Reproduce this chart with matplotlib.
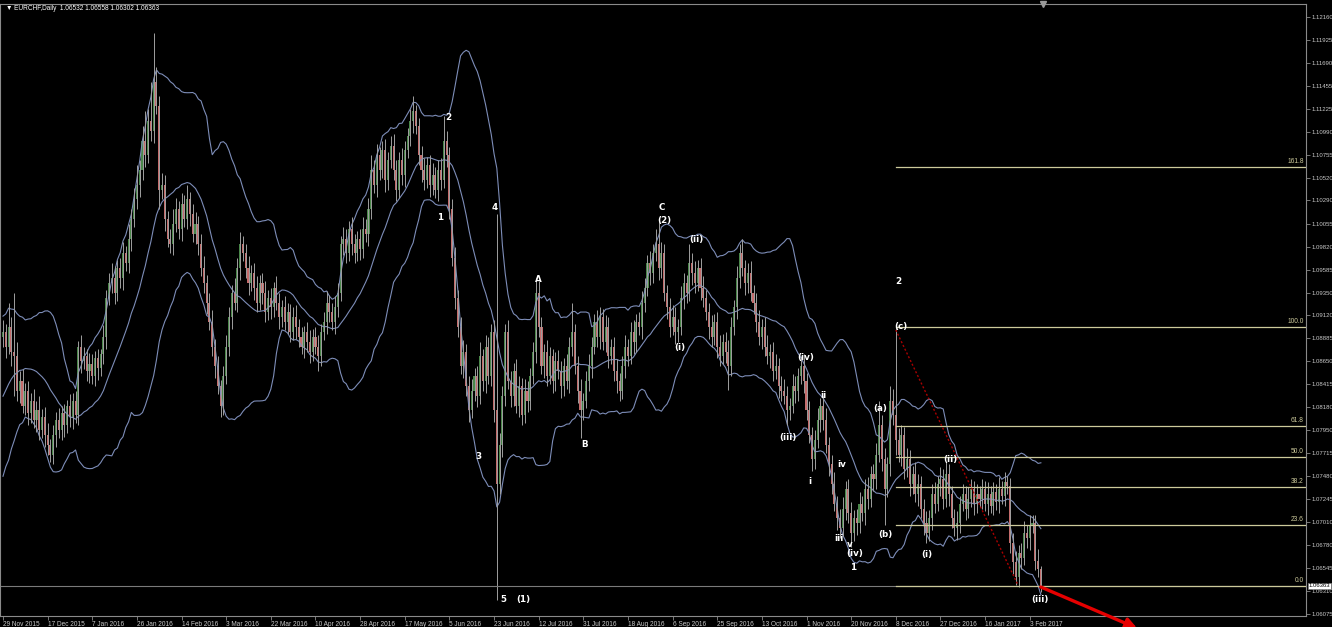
import matplotlib
matplotlib.use('Agg')
import matplotlib.pyplot as plt
import numpy as np
import pandas as pd

plt.rcParams['font.family'] = ['Liberation Sans', 'DejaVu Sans']

# daily closes, in pips above 1.0000 (e.g. 895 -> 1.0895)
closes_before = [760, 775, 770, 790, 785, 800, 810, 805, 820, 830,
                 825, 845, 850, 860, 855, 870, 880, 875, 890]

closes = [
    895, 880, 900, 875, 870, 835, 845, 820, 835, 812,
    825, 805, 815, 795, 808, 790, 780, 770, 790, 805,
    795, 812, 800, 820, 808, 825, 810, 880, 865, 870,
    855, 862, 850, 868, 858, 872, 890, 930, 945, 950,
    935, 960, 950, 975, 965, 990, 1010, 1030, 1045, 1060,
    1090, 1075, 1110, 1100, 1150, 1125, 1040, 1045, 1010, 990,
    985, 1005, 1020, 1000, 1025, 1010, 1030, 1015, 995, 1005,
    985, 960, 945, 925, 905, 880, 860, 840, 820, 850,
    880, 910, 935, 925, 960, 985, 975, 960, 945, 955,
    940, 925, 945, 935, 915, 930, 920, 940, 925, 910,
    920, 905, 915, 895, 910, 900, 890, 880, 895, 885,
    875, 890, 880, 870, 895, 905, 925, 915, 905, 920,
    935, 985, 990, 975, 1000, 985, 975, 990, 980, 1000,
    995, 1020, 1060, 1045, 1075, 1060, 1080, 1050, 1070, 1085,
    1060, 1040, 1070, 1055, 1080, 1095, 1110, 1120, 1105, 1075,
    1060, 1050, 1065, 1045, 1055, 1040, 1060, 1050, 1090, 1075,
    1020, 970, 930, 900, 860, 875, 840, 815, 835, 850,
    830, 870, 845, 880, 850, 895, 815, 740, 780, 830,
    895, 845, 830, 855, 820, 840, 810, 835, 825, 850,
    875, 935, 900, 860, 875, 850, 870, 845, 865, 855,
    840, 860, 845, 880, 895, 860, 835, 815, 825, 845,
    860, 880, 905, 890, 910, 885, 900, 870, 880, 855,
    845, 835, 860, 880, 870, 895, 885, 905, 900, 925,
    940, 965, 955, 975, 985, 960, 975, 935, 920, 900,
    910, 895, 900, 930, 945, 935, 965, 955, 945, 960,
    940, 930, 915, 900, 890, 905, 880, 870, 885, 875,
    860, 900, 920, 950, 975, 960, 945, 955, 935, 925,
    905, 890, 900, 880, 870, 875, 855, 860, 840, 835,
    830, 815, 820, 840, 835, 850, 860, 845, 815, 790,
    765, 785, 805, 820, 805, 780, 760, 740, 720, 705,
    695, 715, 735, 710, 690, 705, 700, 720, 710, 735,
    725, 750, 745, 770, 800, 765, 735, 760, 825, 810,
    785, 770, 790, 755, 765, 740, 750, 730, 740, 715,
    700, 690, 705, 730, 720, 740, 745, 725, 750, 730,
    705, 695, 700, 720, 730, 715, 725, 735, 720, 730,
    725, 735, 720, 730, 718, 732, 722, 735, 728, 742,
    738, 680, 660, 645, 670, 665, 690, 685, 698, 700,
    662, 653, 636,
]

# wick above / below the body, in pips
wick_up = [
    12, 8, 25, 10, 60, 15, 10, 12, 8, 10,
    8, 12, 10, 15, 8, 10, 12, 6, 10, 8,
    12, 8, 10, 6, 12, 8, 10, 6, 12, 10,
    8, 12, 10, 8, 10, 6, 12, 8, 10, 15,
    12, 8, 10, 12, 8, 15, 10, 12, 20, 10,
    15, 30, 12, 40, 50, 15, 10, 12, 10, 8,
    10, 15, 12, 8, 12, 10, 15, 8, 10, 12,
    8, 10, 12, 8, 10, 12, 8, 10, 6, 10,
    12, 10, 8, 15, 10, 12, 8, 10, 12, 8,
    10, 12, 8, 10, 12, 8, 10, 6, 12, 10,
    8, 12, 10, 8, 10, 12, 8, 10, 6, 10,
    12, 8, 10, 12, 8, 10, 12, 8, 10, 12,
    10, 8, 12, 10, 8, 12, 10, 8, 10, 12,
    10, 12, 15, 10, 12, 8, 10, 12, 8, 10,
    12, 10, 8, 12, 10, 8, 12, 15, 6, 8,
    10, 12, 8, 10, 12, 8, 10, 12, 25, 10,
    8, 10, 12, 8, 10, 12, 8, 10, 12, 8,
    10, 15, 8, 12, 10, 8, 12, 200, 12, 10,
    8, 12, 10, 8, 12, 10, 8, 12, 10, 8,
    10, 15, 12, 10, 8, 12, 10, 8, 10, 12,
    10, 8, 12, 10, 30, 8, 10, 12, 8, 10,
    12, 10, 8, 12, 10, 8, 12, 10, 8, 10,
    12, 8, 10, 12, 8, 10, 12, 8, 10, 12,
    10, 8, 12, 10, 15, 24, 12, 10, 8, 10,
    12, 10, 8, 12, 10, 8, 20, 10, 12, 8,
    10, 12, 8, 10, 12, 8, 10, 12, 8, 10,
    12, 10, 8, 12, 10, 15, 8, 10, 12, 8,
    10, 12, 8, 10, 12, 8, 10, 12, 8, 10,
    12, 10, 8, 12, 10, 8, 10, 12, 8, 10,
    8, 10, 12, 8, 10, 12, 8, 10, 12, 8,
    10, 12, 8, 10, 12, 8, 10, 12, 8, 10,
    12, 8, 10, 12, 25, 10, 12, 8, 15, 12,
    91, 12, 10, 8, 12, 10, 8, 12, 10, 8,
    10, 12, 8, 10, 12, 8, 12, 10, 12, 10,
    8, 10, 12, 8, 10, 8, 12, 10, 8, 10,
    8, 10, 8, 12, 8, 10, 8, 12, 8, 10,
    6, 8, 10, 12, 8, 10, 12, 8, 10, 8,
    8, 12, 3,
]

wick_down = [
    10, 12, 8, 15, 40, 10, 12, 8, 10, 12,
    10, 8, 12, 10, 8, 12, 10, 8, 10, 12,
    8, 10, 12, 8, 10, 12, 8, 10, 12, 8,
    10, 12, 8, 10, 12, 8, 10, 12, 8, 10,
    12, 8, 10, 12, 8, 10, 12, 8, 10, 12,
    10, 12, 8, 10, 12, 8, 20, 10, 12, 8,
    10, 12, 8, 10, 12, 8, 10, 12, 8, 10,
    12, 8, 10, 12, 8, 10, 12, 8, 12, 10,
    8, 10, 12, 8, 10, 12, 8, 10, 12, 8,
    12, 10, 8, 12, 10, 8, 12, 10, 8, 12,
    10, 8, 12, 10, 8, 12, 10, 8, 12, 10,
    12, 10, 8, 15, 10, 8, 12, 10, 8, 12,
    10, 8, 12, 10, 8, 12, 10, 8, 12, 10,
    8, 12, 10, 8, 12, 10, 8, 12, 10, 8,
    10, 12, 8, 10, 12, 8, 10, 12, 8, 10,
    12, 10, 8, 12, 10, 8, 12, 10, 8, 12,
    10, 8, 12, 10, 8, 12, 10, 12, 8, 10,
    12, 8, 10, 12, 8, 10, 12, 118, 10, 12,
    10, 8, 12, 10, 8, 12, 10, 8, 12, 10,
    8, 12, 10, 8, 12, 10, 8, 12, 10, 8,
    12, 10, 8, 12, 10, 8, 12, 28, 10, 8,
    10, 12, 8, 10, 12, 8, 10, 12, 8, 10,
    12, 10, 8, 12, 10, 8, 12, 10, 8, 12,
    10, 8, 12, 10, 8, 12, 10, 8, 12, 10,
    8, 12, 10, 8, 12, 10, 8, 12, 10, 8,
    12, 10, 8, 12, 10, 8, 12, 10, 8, 12,
    24, 10, 8, 12, 10, 8, 12, 10, 8, 12,
    10, 8, 12, 10, 8, 12, 10, 8, 12, 10,
    8, 15, 10, 8, 12, 10, 8, 12, 10, 8,
    12, 10, 8, 12, 10, 8, 12, 10, 8, 12,
    10, 8, 12, 10, 14, 8, 12, 10, 8, 12,
    10, 8, 12, 10, 8, 12, 37, 8, 12, 10,
    15, 8, 12, 10, 8, 12, 10, 8, 12, 10,
    12, 10, 8, 12, 10, 8, 12, 10, 8, 12,
    10, 8, 12, 10, 8, 12, 10, 8, 12, 10,
    8, 10, 8, 12, 8, 10, 8, 12, 8, 10,
    8, 10, 12, 8, 10, 12, 8, 10, 12, 8,
    10, 8, 6,
]

date_labels = ['29 Nov 2015', '17 Dec 2015', '7 Jan 2016', '26 Jan 2016', '14 Feb 2016',
               '3 Mar 2016', '22 Mar 2016', '10 Apr 2016', '28 Apr 2016', '17 May 2016',
               '5 Jun 2016', '23 Jun 2016', '12 Jul 2016', '31 Jul 2016', '18 Aug 2016',
               '6 Sep 2016', '25 Sep 2016', '13 Oct 2016', '1 Nov 2016', '20 Nov 2016',
               '8 Dec 2016', '27 Dec 2016', '16 Jan 2017', '3 Feb 2017']
bars_per_label = 16

price_ticks = [1.12160, 1.11925, 1.11690, 1.11455, 1.11225, 1.10990, 1.10755, 1.10520,
               1.10290, 1.10055, 1.09820, 1.09585, 1.09350, 1.09120, 1.08885, 1.08650,
               1.08415, 1.08180, 1.07950, 1.07715, 1.07480, 1.07245, 1.07010, 1.06780,
               1.06545, 1.06310, 1.06075]

fib_names = ['161.8', '100.0', '61.8', '50.0', '38.2', '23.6', '0.0']
fib_ratios = [1.618, 1.0, 0.618, 0.5, 0.382, 0.236, 0.0]
fib_high = 1.0900
fib_low = 1.0636
fib_start_bar = 320

last_price = 1.06363
header = '\u25bc EURCHF,Daily  1.06532 1.06558 1.06302 1.06363'

# wave count labels: text, bar index, price
wave_text = ['2', '1', '4', '3', '5', '(1)', 'A', 'B', 'C', '(2)', '(ii)', '(i)',
             '(iv)', 'ii', '(iii)', 'i', 'iv', 'iii', 'v', '(iv)', '1', '(a)', '(b)',
             '2', '(c)', '(i)', '(ii)', '(iii)']
wave_bar = [159.5, 156.6, 176.3, 170.3, 179.2, 186.4, 191.8, 208.6, 236.2, 236.9, 248.4, 242.7,
            287.8, 293.9, 281.4, 289.2, 300.7, 299.6, 303.6, 305.2, 304.7, 314.3, 316.1,
            320.8, 321.9, 331.2, 339.4, 371.7]
wave_price = [1.1114, 1.1012, 1.1022, 1.07685, 1.0622, 1.0622, 1.0948, 1.0780, 1.1022, 1.1009,
              1.0989, 1.0879, 1.0869, 1.0830, 1.0787, 1.0743, 1.0760, 1.0684, 1.0678, 1.0669,
              1.0655, 1.0817, 1.0689, 1.0946, 1.0901, 1.0668, 1.0765, 1.0622]

# trend line and projection arrow
trend_bars = [320, 363.8]
trend_prices = [1.0897, 1.0637]
arrow_from = (372.0, 1.0635)
arrow_to = (406.5, 1.0593)

# ---- derive OHLC ----
c = 1 + np.array(closes) / 10000
o = np.r_[1 + closes_before[-1] / 10000, c[:-1]]
hi = np.maximum(o, c) + np.array(wick_up) / 10000
lo = np.minimum(o, c) - np.array(wick_down) / 10000
n = len(c)
x = np.arange(n)

allc = pd.Series(np.r_[1 + np.array(closes_before) / 10000, c])
mid = allc.rolling(20).mean().values[-n:]
sd = allc.rolling(20).std(ddof=0).values[-n:]
upper = mid + 2 * sd
lower = mid - 2 * sd

# ---- figure ----
W, H = 1332, 627
fig = plt.figure(figsize=(W / 100, H / 100), dpi=100, facecolor='black')
ax = fig.add_axes([0, (H - 616) / H, 1306 / W, 612 / H], facecolor='black')

px_bar = 2.79
ax.set_xlim(-3 / px_bar, 1303 / px_bar)
ax.set_ylim(1.06075 - 2 / 9811, 1.06075 + 610 / 9811)

band_col = '#7d8db8'
ax.plot(x, upper, color=band_col, lw=0.8)
ax.plot(x, mid, color=band_col, lw=0.8)
ax.plot(x, lower, color=band_col, lw=0.8)

ax.vlines(x, lo, hi, color='#9f9f9f', lw=0.7)
up = c >= o
body_col = np.where(up, '#4a874a', '#c46c6c')
ax.bar(x, np.maximum(np.abs(c - o), 0.00008), bottom=np.minimum(o, c),
       width=0.74, color=body_col, linewidth=0)

# bid line
ax.axhline(last_price, color='#7a7a7a', lw=0.8)

# fibonacci
fib_col = '#cdca9c'
rng = fib_high - fib_low
x_right = 1303 / px_bar
for name, r in zip(fib_names, fib_ratios):
    lvl = fib_low + r * rng
    ax.plot([fib_start_bar, x_right], [lvl, lvl], color=fib_col, lw=0.9)
    ax.text(x_right - 0.8, lvl + 0.0002, name, color=fib_col, fontsize=4.8,
            ha='right', va='bottom')

ax.plot(trend_bars, trend_prices, color='#a80000', lw=1.0, ls=(0, (1.5, 1.5)))

for t, b, p in zip(wave_text, wave_bar, wave_price):
    ax.text(b, p, t, color='white', fontsize=6.3, fontweight='bold',
            family='DejaVu Sans', ha='center', va='center')

ax.annotate('', xy=arrow_to, xytext=arrow_from, annotation_clip=False,
            arrowprops=dict(arrowstyle='-|>', color='#e60000', lw=2.4,
                            mutation_scale=16, shrinkA=0, shrinkB=0))

# chart shift marker on top border
ax.plot([372.8], [ax.get_ylim()[1]], marker='v', color='#9a9a9a', ms=4,
        clip_on=False, zorder=5)

# axes styling
for s in ax.spines.values():
    s.set_color('#8a8a8a')
    s.set_linewidth(0.8)
ax.yaxis.tick_right()
ax.set_yticks(price_ticks)
ax.set_yticklabels(['%.5f' % v for v in price_ticks])
ax.tick_params(axis='y', colors='#8a8a8a', labelcolor='#c8c8c8', labelsize=4.3,
               length=3, width=0.6, pad=1)
ax.set_xticks(np.arange(len(date_labels)) * bars_per_label)
ax.set_xticklabels(date_labels)
for lab in ax.get_xticklabels():
    lab.set_horizontalalignment('left')
ax.tick_params(axis='x', colors='#8a8a8a', labelcolor='#c8c8c8', labelsize=4.7,
               length=3, width=0.6, pad=0.5)

ax.annotate('%.5f' % last_price, xy=(1.0, last_price), xycoords=('axes fraction', 'data'),
            xytext=(2, 0), textcoords='offset points', fontsize=4.3, color='black',
            va='center', ha='left', annotation_clip=False,
            bbox=dict(boxstyle='square,pad=0.1', fc='white', ec='#808080', lw=0.5))

fig.text(6 / W, 1 - 9 / H, header, color='white', fontsize=4.7, va='center', ha='left')

fig.savefig('out.png', dpi=100, facecolor='black')
